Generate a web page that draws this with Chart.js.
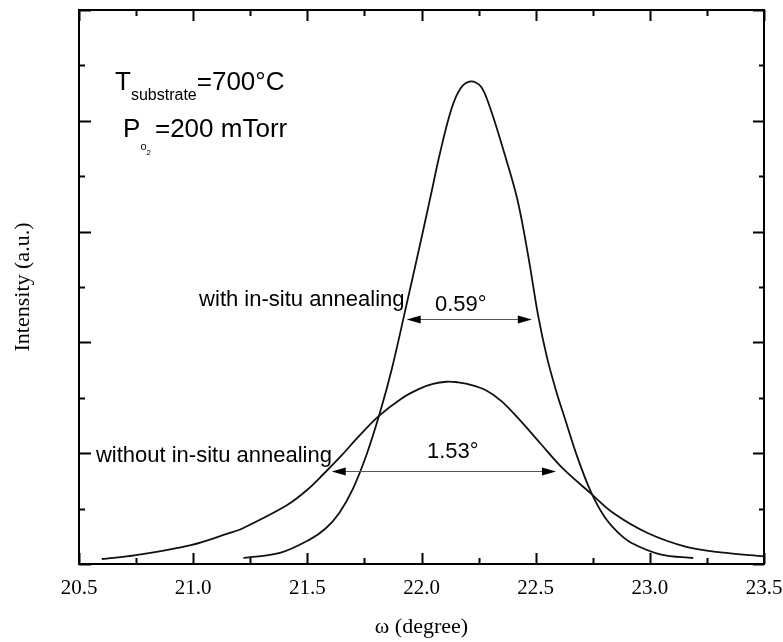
<!DOCTYPE html>
<html>
<head>
<meta charset="utf-8">
<script src="https://cdn.jsdelivr.net/npm/chart.js@4/dist/chart.umd.min.js"></script>
<style>
  html, body { margin: 0; padding: 0; background: #fff; }
</style>
</head>
<body>
<canvas id="rockingCurve" width="783" height="642"></canvas>
<script>
// omega (degree) and intensity (a.u.)
const withAnnealX = [21.22, 21.38, 21.51, 21.58, 21.64, 21.70, 21.76, 21.82, 21.87, 21.93, 21.99,
  22.04, 22.08, 22.13, 22.17, 22.215, 22.26, 22.30, 22.358, 22.42, 22.47, 22.51, 22.55, 22.59,
  22.63, 22.68, 22.74, 22.80, 22.86, 22.92, 23.05, 23.19];
const withAnnealY = [0.054, 0.10, 0.22, 0.32, 0.46, 0.68, 0.99, 1.38, 1.76, 2.30, 2.85,
  3.32, 3.70, 4.10, 4.29, 4.355, 4.31, 4.12, 3.74, 3.29, 2.75, 2.25, 1.86, 1.56,
  1.30, 0.98, 0.66, 0.43, 0.285, 0.19, 0.085, 0.054];

const withoutAnnealX = [20.60, 20.75, 20.99, 21.16, 21.22, 21.41, 21.50, 21.57, 21.65, 21.72, 21.81,
  21.91, 21.99, 22.05, 22.11, 22.16, 22.20, 22.28, 22.35, 22.43, 22.52, 22.62, 22.74, 22.84,
  22.99, 23.16, 23.31, 23.50];
const withoutAnnealY = [0.045, 0.08, 0.17, 0.28, 0.325, 0.53, 0.67, 0.81, 0.98, 1.14, 1.33,
  1.49, 1.58, 1.625, 1.645, 1.64, 1.625, 1.57, 1.47, 1.30, 1.09, 0.86, 0.64, 0.46,
  0.28, 0.155, 0.105, 0.07];

const xTickLabels = ['20.5', '21.0', '21.5', '22.0', '22.5', '23.0', '23.5'];

// FWHM arrows: [from, to] in degree, and the intensity level they sit at
const narrowArrowX = [21.935, 22.483];
const narrowArrowY = 2.21;
const wideArrowX = [21.607, 22.589];
const wideArrowY = 0.843;

// text anchors (left, baseline) in data units
const noteText = ['with in-situ annealing', '0.59°', 'without in-situ annealing', '1.53°'];
const noteX = [21.026, 22.059, 20.574, 22.024];
const noteY = [2.331, 2.285, 0.921, 0.958];

const toPoints = (xs, ys) => xs.map((x, i) => ({ x: x, y: ys[i] }));

function drawRuns(ctx, x, y, runs) {
  let cx = x;
  runs.forEach(r => {
    ctx.font = r.size + 'px "Liberation Sans", Arial, sans-serif';
    ctx.fillText(r.t, cx, y + r.dy);
    cx += ctx.measureText(r.t).width + (r.gap || 0);
  });
}

function arrow(ctx, x1, x2, y) {
  ctx.strokeStyle = '#555';
  ctx.lineWidth = 1;
  ctx.beginPath();
  ctx.moveTo(x1 + 4, y);
  ctx.lineTo(x2 - 4, y);
  ctx.stroke();
  ctx.fillStyle = '#000';
  [[x1, 1], [x2, -1]].forEach(([tip, d]) => {
    ctx.beginPath();
    ctx.moveTo(tip, y);
    ctx.lineTo(tip + d * 14, y - 4);
    ctx.lineTo(tip + d * 14, y + 4);
    ctx.closePath();
    ctx.fill();
  });
}

const frameTicks = {
  id: 'frameTicks',
  afterDatasetsDraw(chart) {
    const { ctx, chartArea: a, scales: { x, y } } = chart;
    ctx.save();
    ctx.strokeStyle = '#000';
    ctx.lineWidth = 2;
    ctx.strokeRect(a.left, a.top, a.right - a.left, a.bottom - a.top);

    const xv = x.ticks.map(t => t.value);
    const yv = y.ticks.map(t => t.value);
    const mids = v => v.slice(1).map((t, i) => (t + v[i]) / 2);

    ctx.beginPath();
    [[xv, 11], [mids(xv), 6]].forEach(([vals, len]) => {
      vals.forEach(v => {
        const px = Math.round(x.getPixelForValue(v)) + 0.5;
        ctx.moveTo(px, a.bottom); ctx.lineTo(px, a.bottom - len);
        ctx.moveTo(px, a.top); ctx.lineTo(px, a.top + len);
      });
    });
    [[yv, 12], [mids(yv), 6]].forEach(([vals, len]) => {
      vals.forEach(v => {
        const py = Math.round(y.getPixelForValue(v)) + 0.5;
        ctx.moveTo(a.left, py); ctx.lineTo(a.left + len, py);
        ctx.moveTo(a.right, py); ctx.lineTo(a.right - len + 1, py);
      });
    });
    ctx.stroke();

    arrow(ctx, x.getPixelForValue(narrowArrowX[0]), x.getPixelForValue(narrowArrowX[1]),
      Math.round(y.getPixelForValue(narrowArrowY)) + 0.5);
    arrow(ctx, x.getPixelForValue(wideArrowX[0]), x.getPixelForValue(wideArrowX[1]),
      Math.round(y.getPixelForValue(wideArrowY)) + 0.5);

    ctx.fillStyle = '#000';
    ctx.textBaseline = 'alphabetic';
    ctx.textAlign = 'left';
    ctx.font = '22px "Liberation Sans", Arial, sans-serif';
    noteText.forEach((t, i) => {
      ctx.fillText(t, x.getPixelForValue(noteX[i]), y.getPixelForValue(noteY[i]));
    });

    drawRuns(ctx, x.getPixelForValue(20.658), y.getPixelForValue(4.282), [
      { t: 'T', size: 26, dy: 0 },
      { t: 'substrate', size: 16, dy: 10 },
      { t: '=700°C', size: 26, dy: 0 }
    ]);
    drawRuns(ctx, x.getPixelForValue(20.693), y.getPixelForValue(3.857), [
      { t: 'P', size: 26, dy: 0 },
      { t: 'o', size: 11, dy: 13 },
      { t: '2', size: 8, dy: 18, gap: 4 },
      { t: '=200 mTorr', size: 26, dy: 0 }
    ]);
    ctx.restore();
  }
};

new Chart(document.getElementById('rockingCurve'), {
  type: 'line',
  data: {
    datasets: [
      {
        label: 'with in-situ annealing',
        data: toPoints(withAnnealX, withAnnealY),
        borderColor: '#111',
        borderWidth: 1.8,
        pointRadius: 0,
        tension: 0.35,
        fill: false
      },
      {
        label: 'without in-situ annealing',
        data: toPoints(withoutAnnealX, withoutAnnealY),
        borderColor: '#111',
        borderWidth: 1.8,
        pointRadius: 0,
        tension: 0.35,
        fill: false
      }
    ]
  },
  options: {
    responsive: false,
    animation: false,
    devicePixelRatio: 1,
    layout: { padding: { left: 0, right: 19, top: 10, bottom: 0 } },
    plugins: { legend: { display: false }, tooltip: { enabled: false } },
    scales: {
      x: {
        type: 'linear',
        min: 20.5,
        max: 23.5,
        ticks: {
          stepSize: 0.5,
          color: '#000',
          padding: 12,
          font: { family: '"Liberation Serif", "Times New Roman", serif', size: 21 },
          callback: (v, i) => xTickLabels[i]
        },
        grid: { drawOnChartArea: false, drawTicks: false },
        border: { display: false },
        title: {
          display: true,
          text: 'ω (degree)',
          color: '#000',
          font: { family: '"Liberation Serif", "Times New Roman", serif', size: 22 },
          padding: { top: 0, bottom: 2 }
        },
        afterFit: s => { s.height = 78; s.paddingLeft = 0; s.paddingRight = 0; }
      },
      y: {
        min: 0,
        max: 5,
        ticks: { stepSize: 1, display: false },
        grid: { drawOnChartArea: false, drawTicks: false },
        border: { display: false },
        title: {
          display: true,
          text: 'Intensity (a.u.)',
          color: '#000',
          font: { family: '"Liberation Serif", "Times New Roman", serif', size: 22 },
          padding: { top: 10, bottom: 0 }
        },
        afterFit: s => { s.width = 79; }
      }
    }
  },
  plugins: [frameTicks]
});
</script>
</body>
</html>
